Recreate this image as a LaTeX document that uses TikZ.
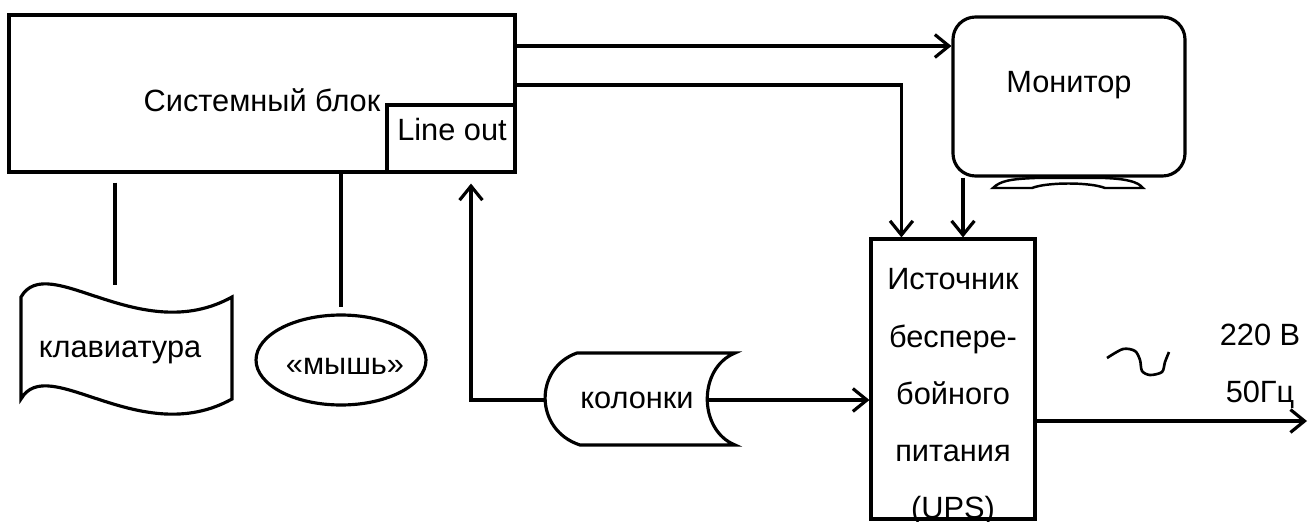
\documentclass[tikz,border=0pt]{standalone}
\usepackage{fontspec}
\setmainfont{Liberation Sans}
\usetikzlibrary{arrows.meta,shapes,fit,calc}

\begin{document}
\begin{tikzpicture}[x=0.02cm,y=-0.02cm,
	box/.style={draw,line width=1.8pt,inner sep=0pt},
	wire/.style={line width=1.8pt},
	conn/.style={line width=1.8pt,-{Straight Barb[length=8pt,width=13pt]}},
	lbl/.style={font=\fontsize{17.5}{20}\selectfont,inner sep=0pt}]
	
		\useasboundingbox (0,0) rectangle (1309,521);
		\clip (0,0) rectangle (1309,521);
		
		% system unit
		\node[box,fit={(9,15) (515,172)}] (sys) {};
		\node[lbl] at (262,100) {Системный блок};
		\node[box,fill=white,fit={(387,105) (515,172)}] (lout) {};
		\node[lbl] at (452,130) {Line out};
		
		% monitor
		\node[box,rounded corners=0.45cm,fit={(953,17) (1185,176)}] (mon) {};
		\node[lbl] at (1069,85) {Монитор};
		\draw[wire,line width=1.4pt] (993,188) .. controls (1000,181) and (1010,179) .. (1035,178) -- (1105,178) .. controls (1128,179) and (1138,182) .. (1143,188) -- (1105,188) .. controls (1090,182) and (1047,182) .. (1032,188) -- cycle;
		
		% UPS
		\node[box,fit={(871,239) (1035,519)}] (ups) {};
		\node[lbl,align=center,font=\fontsize{17.5}{32.6}\selectfont] at (953,397) {Источник\\беспере-\\бойного\\питания\\(UPS)};
		
		% keyboard
		\draw[wire] (21,297) .. controls (48,250) and (140,348) .. (232,297) -- (232,399) .. controls (140,450) and (48,352) .. (21,399) -- cycle;
		\node[lbl] (kbd) at (120,352) {клавиатура};
		\coordinate (kbtop) at (115,285);
		\draw[wire,shorten <=0.18cm] (sys.south -| kbtop) -- (kbtop);
		
		% mouse
		\node[box,ellipse,minimum width=3.4cm,minimum height=1.8cm] (mouse) at (341,360) {};
		\node[lbl] at (345,366) {«мышь»};
		\draw[wire,shorten >=0.12cm] (sys.south -| mouse.north) -- (mouse.north);
		
		% speakers
		\draw[wire] (577,353) -- (735,353) .. controls (698,368) and (698,430) .. (735,445) -- (580,445) .. controls (534,430) and (534,368) .. (577,353) -- cycle;
		\node[lbl] (spk) at (637,400) {колонки};
		\coordinate (spkL) at (545,400);
		\coordinate (spkR) at (707,400);
		
		% links
		\draw[conn] (sys.east |- 0,46) -- (mon.west |- 0,46);
		\draw[conn] (sys.east |- 0,85) -| ($(ups.north west)+(32,0)$);
		\draw[conn] (mon.south -| 963,0) -- (ups.north -| 963,0);
		\draw[conn] (spkR) -- (spkR -| ups.west);
		\draw[conn] (spkL) -| ($(lout.south)+(20,10)$);
		\coordinate (mains) at (1307,421);
		\draw[conn] (ups.east |- mains) -- (mains);
		
		\draw[wire,line width=1.5pt] plot[smooth] coordinates {(1107,358) (1123,349) (1135,351) (1140,360) (1142,371) (1150,375) (1162,372) (1165,362) (1169,352)};
		\node[lbl] at (1260,335) {220 В};
		\node[lbl] at (1260,395) {50Гц};
		
\end{tikzpicture}
\end{document}
